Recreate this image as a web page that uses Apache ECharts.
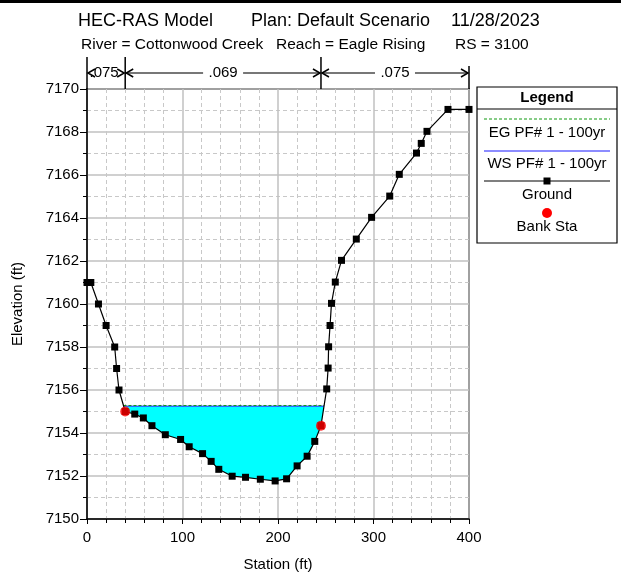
<!DOCTYPE html>
<html>
<head>
<meta charset="utf-8">
<script src="https://cdn.jsdelivr.net/npm/echarts@6/dist/echarts.min.js"></script>
<style>
  html, body { margin: 0; padding: 0; background: #fff; }
  #chart { width: 621px; height: 584px; }
</style>
</head>
<body>
<div id="chart"></div>
<script>
const FONT = 'Arial, "Liberation Sans", sans-serif'

// ground profile
const stations = [0, 4, 12, 20, 29, 31, 33.5, 40, 50, 59, 68, 82, 98, 107, 121, 130, 138, 152, 166, 181.5, 197, 209, 220, 230.5, 238.5, 245,
  251, 252.5, 253, 254.5, 256, 260, 266.5, 282, 298, 317, 327, 345, 350, 356, 378, 400]
const elevations = [7161, 7161, 7160, 7159, 7158, 7157, 7156, 7155, 7154.88, 7154.7, 7154.34, 7153.92, 7153.7, 7153.36, 7153.04, 7152.68, 7152.31, 7151.99, 7151.94, 7151.85, 7151.77, 7151.87, 7152.47, 7152.92, 7153.61, 7154.34,
  7156.05, 7157.02, 7158.01, 7159, 7160.03, 7161.02, 7162.03, 7163.02, 7164.03, 7165.02, 7166.03, 7167.02, 7167.47, 7168.03, 7169.05, 7169.05]

// bank stations
const bankStations = [40, 245]
const bankElevations = [7155, 7154.34]

// water surfaces
const wsElev = 7155.25
const egElev = 7155.28

// manning's n breaks
const nBreaks = [0, 40, 245, 400]
const nValues = ['.075', '.069', '.075']

// axis ticks
const xTicks = [0, 100, 200, 300, 400]
const yTicks = [7150, 7152, 7154, 7156, 7158, 7160, 7162, 7164, 7166, 7168, 7170]

const ground = stations.map((s, i) => [s, elevations[i]])
const banks = bankStations.map((s, i) => [s, bankElevations[i]])

// find where water surface meets the ground on each side of the channel
function crossing(level) {
  const low = elevations.indexOf(Math.min(...elevations))
  let left = null
  let right = null
  for (let i = low; i > 0; i--) {
    if (elevations[i - 1] >= level && elevations[i] < level) {
      const t = (level - elevations[i]) / (elevations[i - 1] - elevations[i])
      left = { idx: i, s: stations[i] + t * (stations[i - 1] - stations[i]) }
      break
    }
  }
  for (let i = low; i < stations.length - 1; i++) {
    if (elevations[i + 1] >= level && elevations[i] < level) {
      const t = (level - elevations[i]) / (elevations[i + 1] - elevations[i])
      right = { idx: i, s: stations[i] + t * (stations[i + 1] - stations[i]) }
      break
    }
  }
  return { left, right }
}

const ws = crossing(wsElev)
const eg = crossing(egElev)
const waterPoly = [[ws.left.s, wsElev]]
for (let i = ws.left.idx; i <= ws.right.idx; i++) waterPoly.push(ground[i])
waterPoly.push([ws.right.s, wsElev])

const chart = echarts.init(document.getElementById('chart'))

chart.setOption({
  animation: false,
  textStyle: { fontFamily: FONT },
  grid: {
    left: 87,
    right: 152,
    top: 89,
    bottom: 65,
    show: true,
    borderColor: '#000',
    borderWidth: 1.5
  },
  xAxis: {
    type: 'value',
    min: xTicks[0],
    max: xTicks[xTicks.length - 1],
    interval: 100,
    name: 'Station (ft)',
    nameLocation: 'middle',
    nameGap: 38,
    nameTextStyle: { color: '#000', fontSize: 15, fontFamily: FONT },
    axisLine: { onZero: false, lineStyle: { color: '#000', width: 1.5 } },
    axisTick: { length: 5, lineStyle: { color: '#000' } },
    minorTick: { show: true, splitNumber: 5, length: 4, lineStyle: { color: '#000' } },
    axisLabel: { color: '#000', fontSize: 15, margin: 11, fontFamily: FONT },
    splitLine: { lineStyle: { color: '#c0c0c0', width: 1.5 } },
    minorSplitLine: { show: true, lineStyle: { color: '#c8c8c8', type: [4, 3], width: 1 } }
  },
  yAxis: {
    type: 'value',
    min: yTicks[0],
    max: yTicks[yTicks.length - 1],
    interval: 2,
    name: 'Elevation (ft)',
    nameLocation: 'middle',
    nameGap: 62,
    nameTextStyle: { color: '#000', fontSize: 15, fontFamily: FONT },
    axisLine: { onZero: false, lineStyle: { color: '#000', width: 1.5 } },
    axisTick: { length: 7, lineStyle: { color: '#000' } },
    minorTick: { show: true, splitNumber: 2, length: 4, lineStyle: { color: '#000' } },
    axisLabel: { color: '#000', fontSize: 15, margin: 8, fontFamily: FONT, formatter: v => String(v) },
    splitLine: { lineStyle: { color: '#c0c0c0', width: 1.5 } },
    minorSplitLine: { show: true, lineStyle: { color: '#c8c8c8', type: [4, 3], width: 1 } }
  },
  series: [
    {
      name: 'water',
      type: 'custom',
      data: [0],
      z: 1,
      renderItem: function(params, api) {
        return {
          type: 'polygon',
          shape: { points: waterPoly.map(p => api.coord(p)) },
          style: { fill: '#00ffff', stroke: null }
        }
      }
    },
    {
      name: 'WS PF# 1 - 100yr',
      type: 'line',
      z: 3,
      data: [[ws.left.s, wsElev], [ws.right.s, wsElev]],
      symbol: 'none',
      lineStyle: { color: '#1a1aff', width: 1 }
    },
    {
      name: 'EG PF# 1 - 100yr',
      type: 'line',
      z: 4,
      data: [[eg.left.s, egElev], [eg.right.s, egElev]],
      symbol: 'none',
      lineStyle: { color: '#119911', width: 1, type: [3, 2] }
    },
    {
      name: 'Ground',
      type: 'line',
      z: 5,
      data: ground,
      symbol: 'rect',
      symbolSize: 7,
      itemStyle: { color: '#000' },
      lineStyle: { color: '#000', width: 1.2 }
    },
    {
      name: 'Bank Sta',
      type: 'scatter',
      z: 6,
      data: banks,
      symbol: 'circle',
      symbolSize: 10,
      itemStyle: { color: '#ff0000' }
    }
  ]
})

// header, manning's n markers and legend box
const graphics = []
const txt = (x, y, text, size, opts) => Object.assign({
  type: 'text',
  x: x,
  y: y,
  z: 10,
  style: Object.assign({ text: text, fill: '#000', font: size + 'px ' + FONT, textVerticalAlign: 'middle' }, opts || {})
})

graphics.push({ type: 'rect', shape: { x: 0, y: 0, width: 621, height: 3 }, style: { fill: '#000' } })
graphics.push(txt(78, 21, 'HEC-RAS Model', 18))
graphics.push(txt(251, 21, 'Plan: Default Scenario', 18))
graphics.push(txt(451, 21, '11/28/2023', 18))
graphics.push(txt(81, 45, 'River = Cottonwood Creek', 15.5))
graphics.push(txt(276, 45, 'Reach = Eagle Rising', 15.5))
graphics.push(txt(455, 45, 'RS = 3100', 15.5))

const topY = chart.convertToPixel({ gridIndex: 0 }, [0, yTicks[yTicks.length - 1]])[1]
const arrowY = topY - 16
const ln = (pts, w, c) => ({ type: 'polyline', z: 11, shape: { points: pts }, style: { stroke: c || '#000', lineWidth: w || 1, fill: null } })
const bx = nBreaks.map(s => chart.convertToPixel({ gridIndex: 0 }, [s, yTicks[0]])[0])
bx.forEach((x, i) => graphics.push(ln([[x, i === bx.length - 1 ? topY - 23 : topY - 32], [x, topY]], 1.5)))
for (let i = 0; i < nValues.length; i++) {
  const x1 = bx[i]
  const x2 = bx[i + 1]
  const mid = (x1 + x2) / 2
  const half = 16
  if (x2 - x1 > 60) {
    graphics.push(ln([[x1 + 1, arrowY], [mid - half - 4, arrowY]], 2, '#777'))
    graphics.push(ln([[mid + half + 4, arrowY], [x2 - 1, arrowY]], 2, '#777'))
    graphics.push(txt(mid, arrowY, nValues[i], 15, { textAlign: 'center' }))
  } else {
    graphics.push(txt(mid - 2, arrowY, nValues[i], 15, { textAlign: 'center' }))
  }
  graphics.push(ln([[x1 + 8, arrowY - 4], [x1 + 1, arrowY], [x1 + 8, arrowY + 4]], 1.5))
  graphics.push(ln([[x2 - 8, arrowY - 4], [x2 - 1, arrowY], [x2 - 8, arrowY + 4]], 1.5))
}

// legend
const lx = 477
const ly = 87
const lw = 140
graphics.push({ type: 'rect', shape: { x: lx, y: ly, width: lw, height: 156 }, style: { fill: '#fff', stroke: '#000', lineWidth: 1.2 } })
graphics.push(ln([[lx, ly + 22], [lx + lw, ly + 22]], 1.2))
graphics.push(txt(lx + lw / 2, ly + 11, 'Legend', 15, { textAlign: 'center', font: 'bold 15px ' + FONT }))
graphics.push({ type: 'line', z: 11, shape: { x1: lx + 7, y1: ly + 32, x2: lx + lw - 7, y2: ly + 32 }, style: { stroke: '#119911', lineWidth: 1, lineDash: [3, 2] } })
graphics.push(txt(lx + lw / 2, ly + 46, 'EG PF# 1 - 100yr', 15, { textAlign: 'center' }))
graphics.push({ type: 'line', z: 11, shape: { x1: lx + 7, y1: ly + 64, x2: lx + lw - 7, y2: ly + 64 }, style: { stroke: '#1a1aff', lineWidth: 1.2 } })
graphics.push(txt(lx + lw / 2, ly + 77, 'WS PF# 1 - 100yr', 15, { textAlign: 'center' }))
graphics.push({ type: 'line', z: 11, shape: { x1: lx + 7, y1: ly + 94, x2: lx + lw - 7, y2: ly + 94 }, style: { stroke: '#000', lineWidth: 1.2 } })
graphics.push({ type: 'rect', z: 11, shape: { x: lx + lw / 2 - 3.5, y: ly + 94 - 3.5, width: 7, height: 7 }, style: { fill: '#000' } })
graphics.push(txt(lx + lw / 2, ly + 108, 'Ground', 15, { textAlign: 'center' }))
graphics.push({ type: 'circle', z: 11, shape: { cx: lx + lw / 2, cy: ly + 126, r: 5 }, style: { fill: '#ff0000' } })
graphics.push(txt(lx + lw / 2, ly + 140, 'Bank Sta', 15, { textAlign: 'center' }))

chart.setOption({ graphic: graphics })
</script>
</body>
</html>
